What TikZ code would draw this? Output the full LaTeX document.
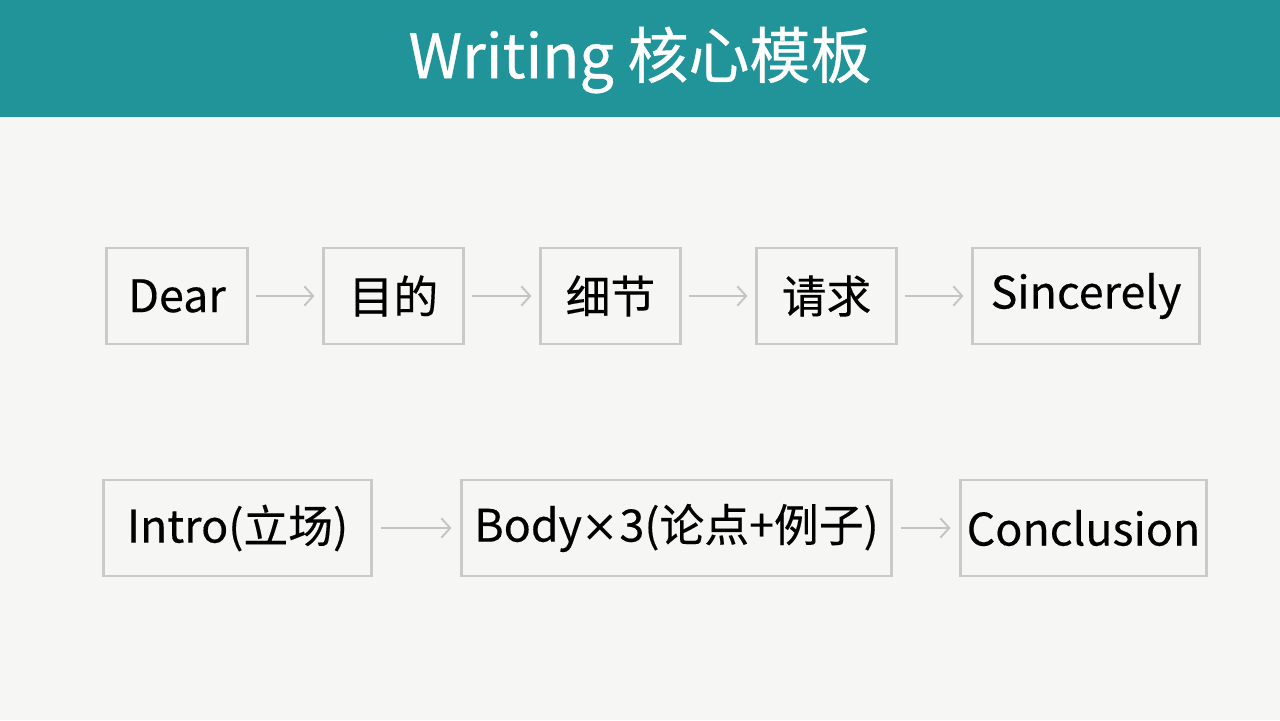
\documentclass[tikz,border=0pt]{standalone}
\usepackage{fontspec}
\setmainfont{Noto Sans CJK SC}[FakeBold=0.3]
\newfontfamily\headfont{Noto Sans CJK SC}[FakeBold=0.6]
\newfontfamily\latinx{DejaVu Sans}
\usetikzlibrary{arrows.meta}
\definecolor{headbg}{HTML}{21949A}
\definecolor{pagebg}{HTML}{F6F6F4}
\definecolor{boxline}{HTML}{C9CACA}
\definecolor{arrowgray}{HTML}{C4C4C4}
\begin{document}
\begin{tikzpicture}
  [x=0.02cm, y=-0.02cm,
   card/.style={draw=boxline,
                line width=1.2pt,
                fill=pagebg,
                inner sep=0pt,
                minimum height=1.92cm,
                font=\fontsize{25.5}{30}\selectfont,
                text=black},
   flow/.style={draw=arrowgray,
                line width=1.1pt,
                -{Straight Barb[length=5pt,width=11pt]}}]
  \useasboundingbox (0,0) rectangle (1280,720);
  \fill[pagebg] (0,0) rectangle (1280,720);
  \fill[headbg] (0,0) rectangle (1280,117);
  \node[text=white, font=\headfont\fontsize{34.7}{40}\selectfont] (title) at (640,60) {Writing 核心模板};
  % letter row
  \node[card, minimum width=2.82cm] (dear) at (177,296) {Dear};
  \node[card, minimum width=2.80cm] (aim) at (393.5,296) {目的};
  \node[card, minimum width=2.80cm] (detail) at (610.5,296) {细节};
  \node[card, minimum width=2.80cm] (ask) at (826.5,296) {请求};
  \node[card, minimum width=4.54cm] (sign) at (1086,296) {Sincerely};
  % essay row
  \node[card, minimum width=5.36cm] (intro) at (237.5,528) {Intro(立场)};
  \node[card, minimum width=8.60cm] (body) at (676.5,528) {Body{\latinx ×}3(论点+例子)};
  \node[card, minimum width=4.92cm] (concl) at (1083.5,528) {Conclusion};
  \draw[flow] ([xshift=0.14cm]dear.east) -- ([xshift=-0.16cm]aim.west);
  \draw[flow] ([xshift=0.14cm]aim.east) -- ([xshift=-0.16cm]detail.west);
  \draw[flow] ([xshift=0.14cm]detail.east) -- ([xshift=-0.16cm]ask.west);
  \draw[flow] ([xshift=0.14cm]ask.east) -- ([xshift=-0.16cm]sign.west);
  \draw[flow] ([xshift=0.16cm]intro.east) -- ([xshift=-0.18cm]body.west);
  \draw[flow] ([xshift=0.16cm]body.east) -- ([xshift=-0.18cm]concl.west);
\end{tikzpicture}
\end{document}
